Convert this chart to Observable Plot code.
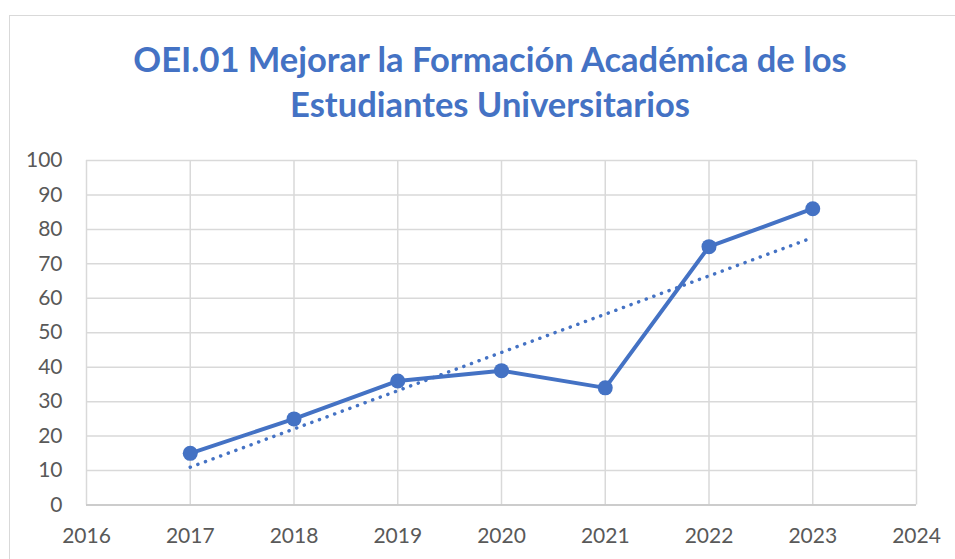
<!DOCTYPE html>
<html>
<head>
<meta charset="utf-8">
<script src="https://cdn.jsdelivr.net/npm/d3@7"></script>
<script src="https://cdn.jsdelivr.net/npm/@observablehq/plot@0.6"></script>
<style>
  html, body { margin: 0; padding: 0; background: #fff; }
  #wrap { position: relative; width: 955px; height: 559px; overflow: hidden; }
  #frame { position: absolute; left: 9px; top: 15px; width: 1000px; height: 600px; border: 1.5px solid #d9d9d9; box-sizing: border-box; }
  #title { position: absolute; left: 0; top: 36px; width: 980px; text-align: center; font-family: Lato, sans-serif; font-weight: bold; font-size: 34.5px; line-height: 45px; color: #4472C4; }
  #chart { position: absolute; left: 0; top: 140px; }
</style>
</head>
<body>
<div id="wrap">
  <div id="frame"></div>
  <div id="title">OEI.01 Mejorar la Formación Académica de los<br>Estudiantes Universitarios</div>
  <div id="chart"></div>
</div>
<script>
const years = [2017, 2018, 2019, 2020, 2021, 2022, 2023];
const values = [15, 25, 36, 39, 34, 75, 86];
const xTicks = [2016, 2017, 2018, 2019, 2020, 2021, 2022, 2023, 2024];
const yTicks = [0, 10, 20, 30, 40, 50, 60, 70, 80, 90, 100];

const data = years.map((y, i) => ({year: y, value: values[i]}));
const blue = "#4472C4";
const grid = "#d9d9d9";

const chart = Plot.plot({
  width: 955,
  height: 419,
  marginLeft: 86,
  marginRight: 39,
  marginTop: 20,
  marginBottom: 54.5,
  x: {domain: [2016, 2024]},
  y: {domain: [0, 100]},
  style: {fontFamily: "Lato, sans-serif", fontSize: "21px", color: "#595959", background: "transparent"},
  marks: [
    Plot.gridX(xTicks, {stroke: grid, strokeOpacity: 1, strokeWidth: 1.5}),
    Plot.gridY(yTicks, {stroke: grid, strokeOpacity: 1, strokeWidth: 1.5}),
    Plot.ruleY([0], {stroke: "#c4c4c4", strokeWidth: 1.5}),
    Plot.axisX(xTicks, {tickSize: 0, tickPadding: 23, tickFormat: d => String(d), fill: "#595959", label: null}),
    Plot.axisY(yTicks, {tickSize: 0, tickPadding: 24, fill: "#595959", label: null}),
    Plot.linearRegressionY(data, {x: "year", y: "value", stroke: blue, strokeWidth: 3.5, strokeDasharray: "0.1 8", strokeLinecap: "round", ci: 0}),
    Plot.line(data, {x: "year", y: "value", stroke: blue, strokeWidth: 4}),
    Plot.dot(data, {x: "year", y: "value", r: 7.5, fill: blue})
  ]
});
document.getElementById("chart").appendChild(chart);
</script>
</body>
</html>
